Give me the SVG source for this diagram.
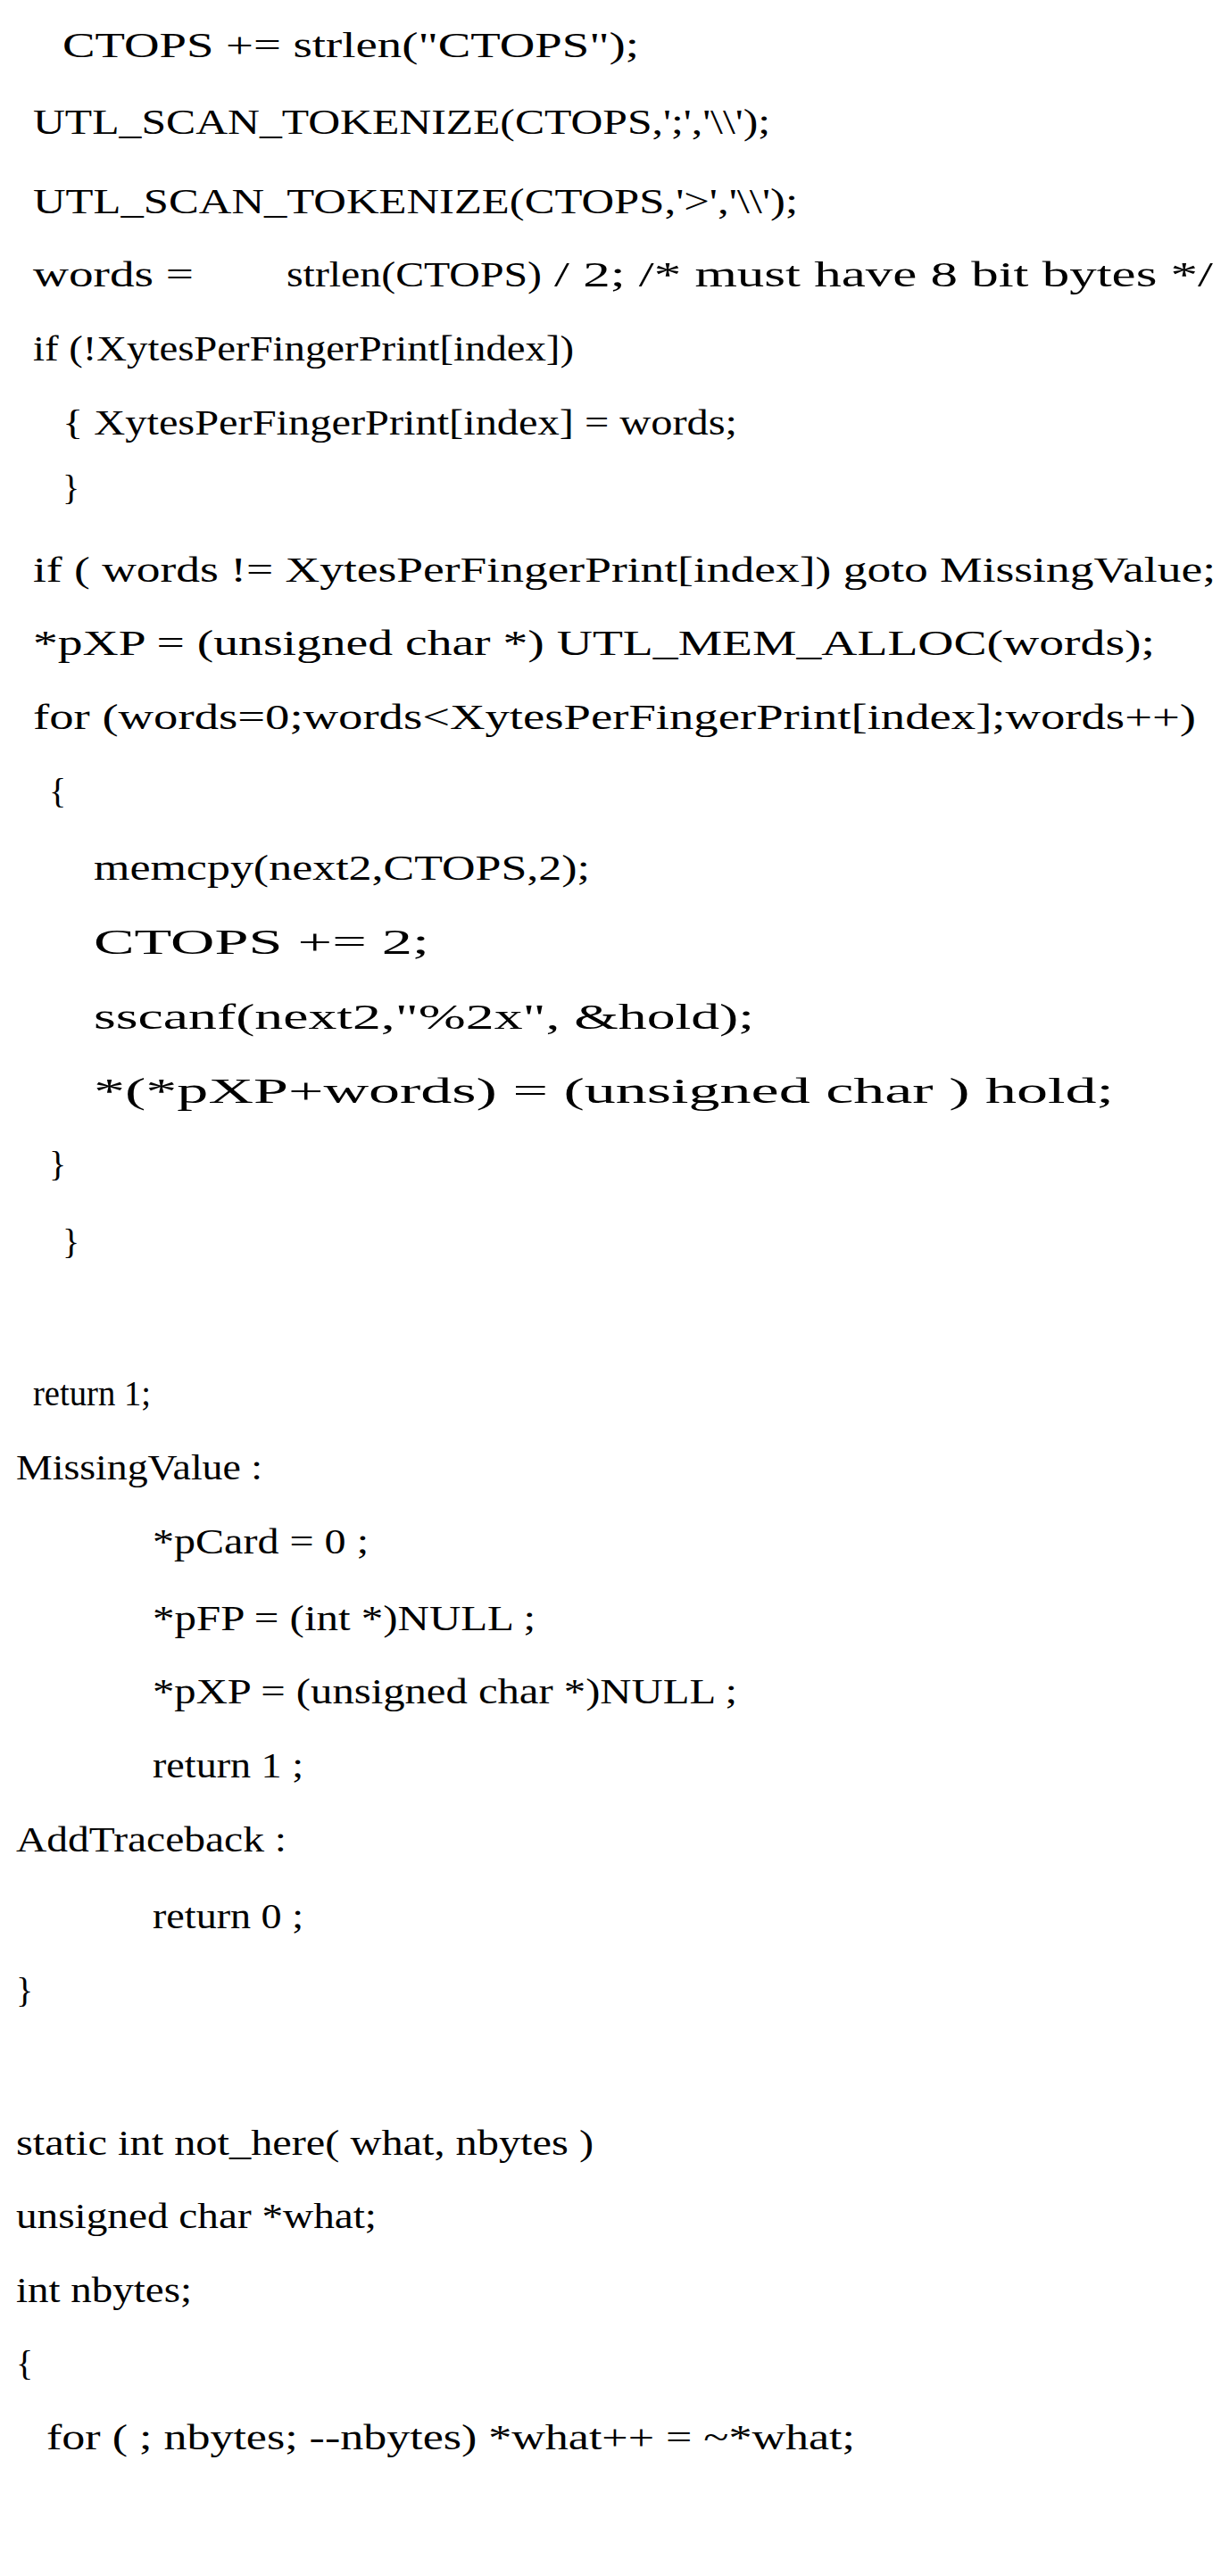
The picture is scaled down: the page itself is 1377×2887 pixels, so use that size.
<svg xmlns="http://www.w3.org/2000/svg" width="1377" height="2887" viewBox="0 0 1377 2887">
<style>text{font-family:"Liberation Serif","Times New Roman",serif;font-size:40px;fill:#000;white-space:pre}</style>
<rect width="1377" height="2887" fill="#fff"/>
<g id="code">
<text x="70" y="64" textLength="646" lengthAdjust="spacingAndGlyphs">CTOPS += strlen("CTOPS");</text>
<text x="37" y="150" textLength="826" lengthAdjust="spacingAndGlyphs">UTL_SCAN_TOKENIZE(CTOPS,';','\\');</text>
<text x="37" y="239" textLength="857" lengthAdjust="spacingAndGlyphs">UTL_SCAN_TOKENIZE(CTOPS,'&gt;','\\');</text>
<text x="37" y="321" textLength="180" lengthAdjust="spacingAndGlyphs">words =</text>
<text x="321" y="321" textLength="286" lengthAdjust="spacingAndGlyphs">strlen(CTOPS)</text>
<text x="621" y="321" textLength="738" lengthAdjust="spacingAndGlyphs">/ 2; /* must have 8 bit bytes */</text>
<text x="37" y="404" textLength="606" lengthAdjust="spacingAndGlyphs">if (!XytesPerFingerPrint[index])</text>
<text x="70" y="487" textLength="756" lengthAdjust="spacingAndGlyphs">{ XytesPerFingerPrint[index] = words;</text>
<text x="70" y="560">}</text>
<text x="37" y="652" textLength="1325" lengthAdjust="spacingAndGlyphs">if ( words != XytesPerFingerPrint[index]) goto MissingValue;</text>
<text x="37" y="734" textLength="1257" lengthAdjust="spacingAndGlyphs">*pXP = (unsigned char *) UTL_MEM_ALLOC(words);</text>
<text x="37" y="817" textLength="1303" lengthAdjust="spacingAndGlyphs">for (words=0;words&lt;XytesPerFingerPrint[index];words++)</text>
<text x="55" y="900">{</text>
<text x="105" y="986" textLength="556" lengthAdjust="spacingAndGlyphs">memcpy(next2,CTOPS,2);</text>
<text x="105" y="1069" textLength="376" lengthAdjust="spacingAndGlyphs">CTOPS += 2;</text>
<text x="105" y="1153" textLength="740" lengthAdjust="spacingAndGlyphs">sscanf(next2,"%2x", &amp;hold);</text>
<text x="105" y="1236" textLength="1143" lengthAdjust="spacingAndGlyphs">*(*pXP+words) = (unsigned char ) hold;</text>
<text x="55" y="1318">}</text>
<text x="70" y="1405">}</text>
<text x="37" y="1575" textLength="132" lengthAdjust="spacingAndGlyphs">return 1;</text>
<text x="18" y="1658" textLength="276" lengthAdjust="spacingAndGlyphs">MissingValue :</text>
<text x="171" y="1741" textLength="242" lengthAdjust="spacingAndGlyphs">*pCard = 0 ;</text>
<text x="171" y="1827" textLength="429" lengthAdjust="spacingAndGlyphs">*pFP = (int *)NULL ;</text>
<text x="171" y="1909" textLength="655" lengthAdjust="spacingAndGlyphs">*pXP = (unsigned char *)NULL ;</text>
<text x="171" y="1992" textLength="169" lengthAdjust="spacingAndGlyphs">return 1 ;</text>
<text x="18" y="2075" textLength="303" lengthAdjust="spacingAndGlyphs">AddTraceback :</text>
<text x="171" y="2161" textLength="169" lengthAdjust="spacingAndGlyphs">return 0 ;</text>
<text x="18" y="2244">}</text>
<text x="18" y="2415" textLength="647" lengthAdjust="spacingAndGlyphs">static int not_here( what, nbytes )</text>
<text x="18" y="2497" textLength="404" lengthAdjust="spacingAndGlyphs">unsigned char *what;</text>
<text x="18" y="2580" textLength="197" lengthAdjust="spacingAndGlyphs">int nbytes;</text>
<text x="18" y="2662">{</text>
<text x="52" y="2745" textLength="906" lengthAdjust="spacingAndGlyphs">for ( ; nbytes; --nbytes) *what++ = ~*what;</text>
</g>
</svg>
